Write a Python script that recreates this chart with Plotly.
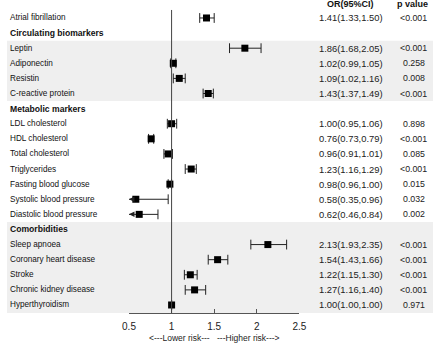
import plotly.graph_objects as go

labels = ["Atrial fibrillation", "Circulating biomarkers", "Leptin", "Adiponectin", "Resistin",
          "C-reactive protein", "Metabolic markers", "LDL cholesterol", "HDL cholesterol",
          "Total cholesterol", "Triglycerides", "Fasting blood glucose", "Systolic blood pressure",
          "Diastolic blood pressure", "Comorbidities", "Sleep apnoea", "Coronary heart disease",
          "Stroke", "Chronic kidney disease", "Hyperthyroidism"]
is_header = [False, True, False, False, False, False, True, False, False, False, False, False,
             False, False, True, False, False, False, False, False]
or_vals = [1.41, None, 1.86, 1.02, 1.09, 1.43, None, 1.00, 0.76, 0.96, 1.23, 0.98, 0.58, 0.62,
           None, 2.13, 1.54, 1.22, 1.27, 1.00]
ci_low = [1.33, None, 1.68, 0.99, 1.02, 1.37, None, 0.95, 0.73, 0.91, 1.16, 0.96, 0.35, 0.46,
          None, 1.93, 1.43, 1.15, 1.16, 1.00]
ci_high = [1.50, None, 2.05, 1.05, 1.16, 1.49, None, 1.06, 0.79, 1.01, 1.29, 1.00, 0.96, 0.84,
           None, 2.35, 1.66, 1.30, 1.40, 1.00]
p_text = ["<0.001", "", "<0.001", "0.258", "0.008", "<0.001", "", "0.898", "<0.001", "0.085",
          "<0.001", "0.015", "0.032", "0.002", "", "<0.001", "<0.001", "<0.001", "<0.001", "0.971"]
tick_vals = [0.5, 1, 1.5, 2, 2.5]
tick_text = ["0.5", "1", "1.5", "2", "2.5"]
shaded_groups = [(2, 5), (14, 19)]

XMIN, XMAX = 0.5, 2.5
FONT = "Arial, Liberation Sans, sans-serif"
rows = list(range(len(labels)))

fig = go.Figure()

# shaded bands
for a, b in shaded_groups:
    y1 = b + 0.5 if b < len(labels) - 1 else 19.53
    fig.add_shape(type="rect", xref="paper", yref="y", x0=0, x1=1, y0=a - 0.5, y1=y1,
                  fillcolor="#efefef", line_width=0, layer="below")

# reference line at 1
fig.add_shape(type="line", xref="x", yref="y", x0=1, x1=1, y0=-0.53, y1=19.53,
              line=dict(color="#444", width=1))

# CI lines and caps
lx, ly, cx, cy = [], [], [], []
for r in rows:
    if or_vals[r] is None:
        continue
    lo = max(ci_low[r], XMIN)
    hi = ci_high[r]
    lx += [lo, hi, None]
    ly += [r, r, None]
    if ci_low[r] >= XMIN:
        cx.append(ci_low[r]); cy.append(r)
    else:
        fig.add_annotation(x=XMIN, y=r, ax=XMIN + 0.07, ay=r, axref="x", ayref="y",
                           xref="x", yref="y", showarrow=True, arrowhead=2, arrowsize=1.1,
                           arrowwidth=1, arrowcolor="#222", text="")
    cx.append(hi); cy.append(r)

fig.add_trace(go.Scatter(x=lx, y=ly, mode="lines", line=dict(color="#222", width=1),
                         hoverinfo="skip", cliponaxis=False))
fig.add_trace(go.Scatter(x=cx, y=cy, mode="markers",
                         marker=dict(symbol="line-ns", size=7, line=dict(color="#222", width=1)),
                         hoverinfo="skip", cliponaxis=False))
px = [or_vals[r] for r in rows if or_vals[r] is not None]
py = [r for r in rows if or_vals[r] is not None]
fig.add_trace(go.Scatter(x=px, y=py, mode="markers",
                         marker=dict(symbol="square", size=7, color="black"),
                         hoverinfo="skip", cliponaxis=False))

# text columns
for r in rows:
    if is_header[r]:
        fig.add_annotation(x=0.003, y=r, xref="paper", yref="y", text="<b>%s</b>" % labels[r],
                           showarrow=False, xanchor="left", yanchor="middle",
                           font=dict(family=FONT, size=8.6, color="#111"))
        continue
    fig.add_annotation(x=0.003, y=r, xref="paper", yref="y", text=labels[r], showarrow=False,
                       xanchor="left", yanchor="middle", font=dict(family=FONT, size=8.2, color="#111"))
    fig.add_annotation(x=355 / 440, y=r, xref="paper", yref="y",
                       text="%.2f(%.2f,%.2f)" % (or_vals[r], ci_low[r], ci_high[r]),
                       showarrow=False, xanchor="center", yanchor="middle",
                       font=dict(family=FONT, size=9.4, color="#222"))
    fig.add_annotation(x=420 / 440, y=r, xref="paper", yref="y", text=p_text[r].replace("<", "&lt;"),
                       showarrow=False, xanchor="center", yanchor="middle",
                       font=dict(family=FONT, size=8.8, color="#222"))

fig.add_annotation(x=355 / 440, y=-0.93, xref="paper", yref="y", text="<b>OR(95%CI)</b>",
                   showarrow=False, xanchor="center", yanchor="middle",
                   font=dict(family=FONT, size=9, color="#111"))
fig.add_annotation(x=419 / 440, y=-0.93, xref="paper", yref="y", text="<b>p value</b>",
                   showarrow=False, xanchor="center", yanchor="middle",
                   font=dict(family=FONT, size=9, color="#111"))

mid = (XMIN + XMAX) / 2
fig.add_annotation(x=mid, y=-(338 - 313) / 313, xref="x", yref="paper", text="&lt;---Lower risk---",
                   showarrow=False, xanchor="right", yanchor="middle", xshift=-2,
                   font=dict(family=FONT, size=8.5, color="#222"))
fig.add_annotation(x=mid, y=-(338 - 313) / 313, xref="x", yref="paper", text="---Higher risk---&gt;",
                   showarrow=False, xanchor="left", yanchor="middle", xshift=1,
                   font=dict(family=FONT, size=8.5, color="#222"))

fig.update_layout(
    width=440, height=345, margin=dict(l=0, r=0, t=0, b=32),
    plot_bgcolor="white", paper_bgcolor="white", showlegend=False,
    xaxis=dict(domain=[126 / 440, 302 / 440], range=[XMIN, XMAX], tickvals=tick_vals,
               ticktext=tick_text, showgrid=False, zeroline=False, showline=True,
               linecolor="#555", linewidth=1, ticks="inside", ticklen=4, tickcolor="#555",
               tickfont=dict(family=FONT, size=10, color="#222"), ticklabelstandoff=4),
    yaxis=dict(range=[19.53, -1.19], visible=False, showgrid=False, zeroline=False),
)

fig.write_html("out.html", config={"displayModeBar": False},
               post_script="document.body.style.margin='0';")
